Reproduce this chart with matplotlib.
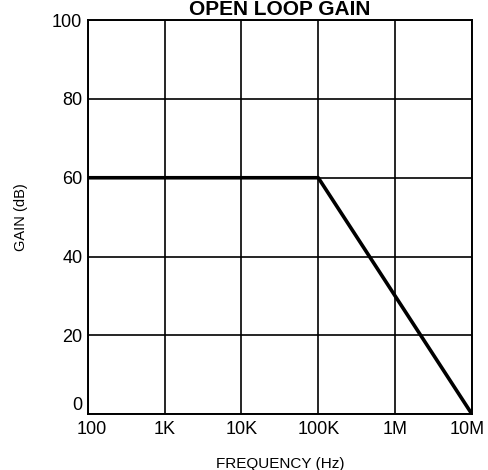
import matplotlib
matplotlib.use("Agg")
import matplotlib.pyplot as plt
import matplotlib.transforms as mtransforms
import numpy as np

plt.rcParams['font.family'] = ['Liberation Sans', 'DejaVu Sans']

# Open loop gain: flat at 60 dB, rolls off to 0 dB at 10 MHz
freq = [100, 100e3, 10e6]
gain = [60, 60, 0]

x_ticks = [100, 1e3, 1e4, 1e5, 1e6, 1e7]
x_labels = ['100', '1K', '10K', '100K', '1M', '10M']
y_ticks = [0, 20, 40, 60, 80, 100]

fig = plt.figure(figsize=(4.88, 4.70), dpi=100)
ax = fig.add_axes([0.180, 0.119, 0.787, 0.838])

ax.plot(freq, gain, color='black', linewidth=2.6, solid_capstyle='butt', zorder=3)

ax.set_xscale('log')
ax.set_xlim(100, 1e7)
ax.set_ylim(0, 100)
ax.set_xticks(x_ticks)
ax.set_xticklabels(x_labels)
ax.minorticks_off()
ax.set_yticks(y_ticks)
ax.tick_params(length=0, labelsize=13, colors='black')
ax.tick_params(axis='x', pad=5)
ax.tick_params(axis='y', pad=4)
ax.grid(True, color='black', linewidth=1.2)

# the "0" sits just above the corner, clear of the "100" below it
ax.get_yticklabels()[0].set_va('bottom')

# nudge the end labels inward a little, as in the original sheet
xl = ax.get_xticklabels()
xl[0].set_transform(xl[0].get_transform() + mtransforms.ScaledTranslation(4 / 100, 0, fig.dpi_scale_trans))
xl[-1].set_transform(xl[-1].get_transform() + mtransforms.ScaledTranslation(-5 / 100, 0, fig.dpi_scale_trans))

for s in ax.spines.values():
    s.set_linewidth(1.4)
    s.set_color('black')

ax.set_xlabel('FREQUENCY (Hz)', fontsize=11, labelpad=14)
ax.set_ylabel('GAIN (dB)', fontsize=10.5, labelpad=17)

fig.text(0.574, 1 - 15 / 470, 'OPEN LOOP GAIN', ha='center', va='baseline',
         fontsize=15, fontweight='bold')

fig.savefig('out.png', dpi=100)
